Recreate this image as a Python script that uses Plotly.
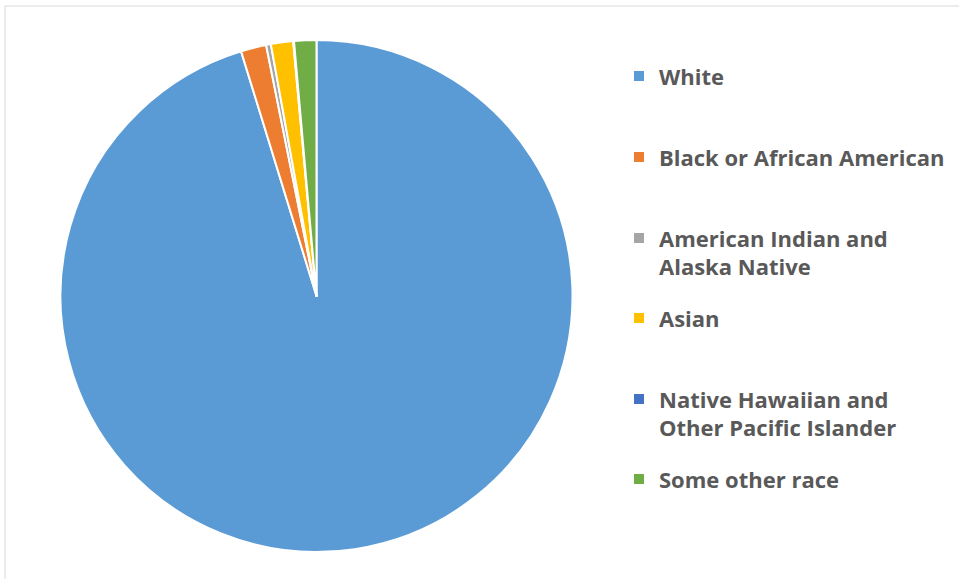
import plotly.graph_objects as go

# Data
labels = ["White", "Black or African American", "American Indian and Alaska Native",
          "Asian", "Native Hawaiian and Other Pacific Islander", "Some other race"]
legend_text = ["White", "Black or African American", "American Indian and<br>Alaska Native",
               "Asian", "Native Hawaiian and<br>Other Pacific Islander", "Some other race"]
values = [95.1, 1.6, 0.3, 1.4, 0.05, 1.4]
colors = ["#5b9bd5", "#ed7d31", "#a5a5a5", "#ffc000", "#4472c4", "#70ad47"]

W, H = 959, 579
cx, cy, r = 316.5, 296, 256
FS = 22

fig = go.Figure()
fig.add_trace(go.Pie(
    labels=labels, values=values, sort=False, direction="clockwise", rotation=0,
    marker=dict(colors=colors, line=dict(color="white", width=2)),
    textinfo="none", showlegend=False,
    domain=dict(x=[(cx - r) / W, (cx + r) / W], y=[1 - (cy + r) / H, 1 - (cy - r) / H]),
))

# legend entries, one legend each so they can be spaced evenly like the original
line_centers = [76, 157, 238, 318, 399, 479]
legend_left = 619
offset = 5 + (1.3 * FS + 3) / 2
for i, (txt, col) in enumerate(zip(legend_text, colors)):
    key = "legend" if i == 0 else f"legend{i+1}"
    fig.add_trace(go.Scatter(
        x=[None], y=[None], mode="markers", name=txt,
        marker=dict(symbol="square", size=10, color=col),
        legend=key, showlegend=True, hoverinfo="skip",
    ))
    fig.layout[key] = dict(
        x=legend_left / W, xanchor="left",
        y=1 - (line_centers[i] - offset) / H, yanchor="top",
        font=dict(family="Open Sans", size=FS, color="#595959", weight="bold"),
        valign="top", bgcolor="rgba(0,0,0,0)", borderwidth=0,
    )

fig.update_layout(
    width=W, height=H,
    margin=dict(l=0, r=0, t=0, b=0),
    paper_bgcolor="white", plot_bgcolor="white",
    xaxis=dict(visible=False), yaxis=dict(visible=False),
    shapes=[dict(type="rect", xref="paper", yref="paper",
                 x0=5 / W, x1=1.01, y0=-0.01, y1=1 - 6 / H,
                 line=dict(color="#d9d9d9", width=1), layer="below")],
)

fig.write_html("out.html", config={"displayModeBar": False},
               post_script="document.body.style.margin='0';")
